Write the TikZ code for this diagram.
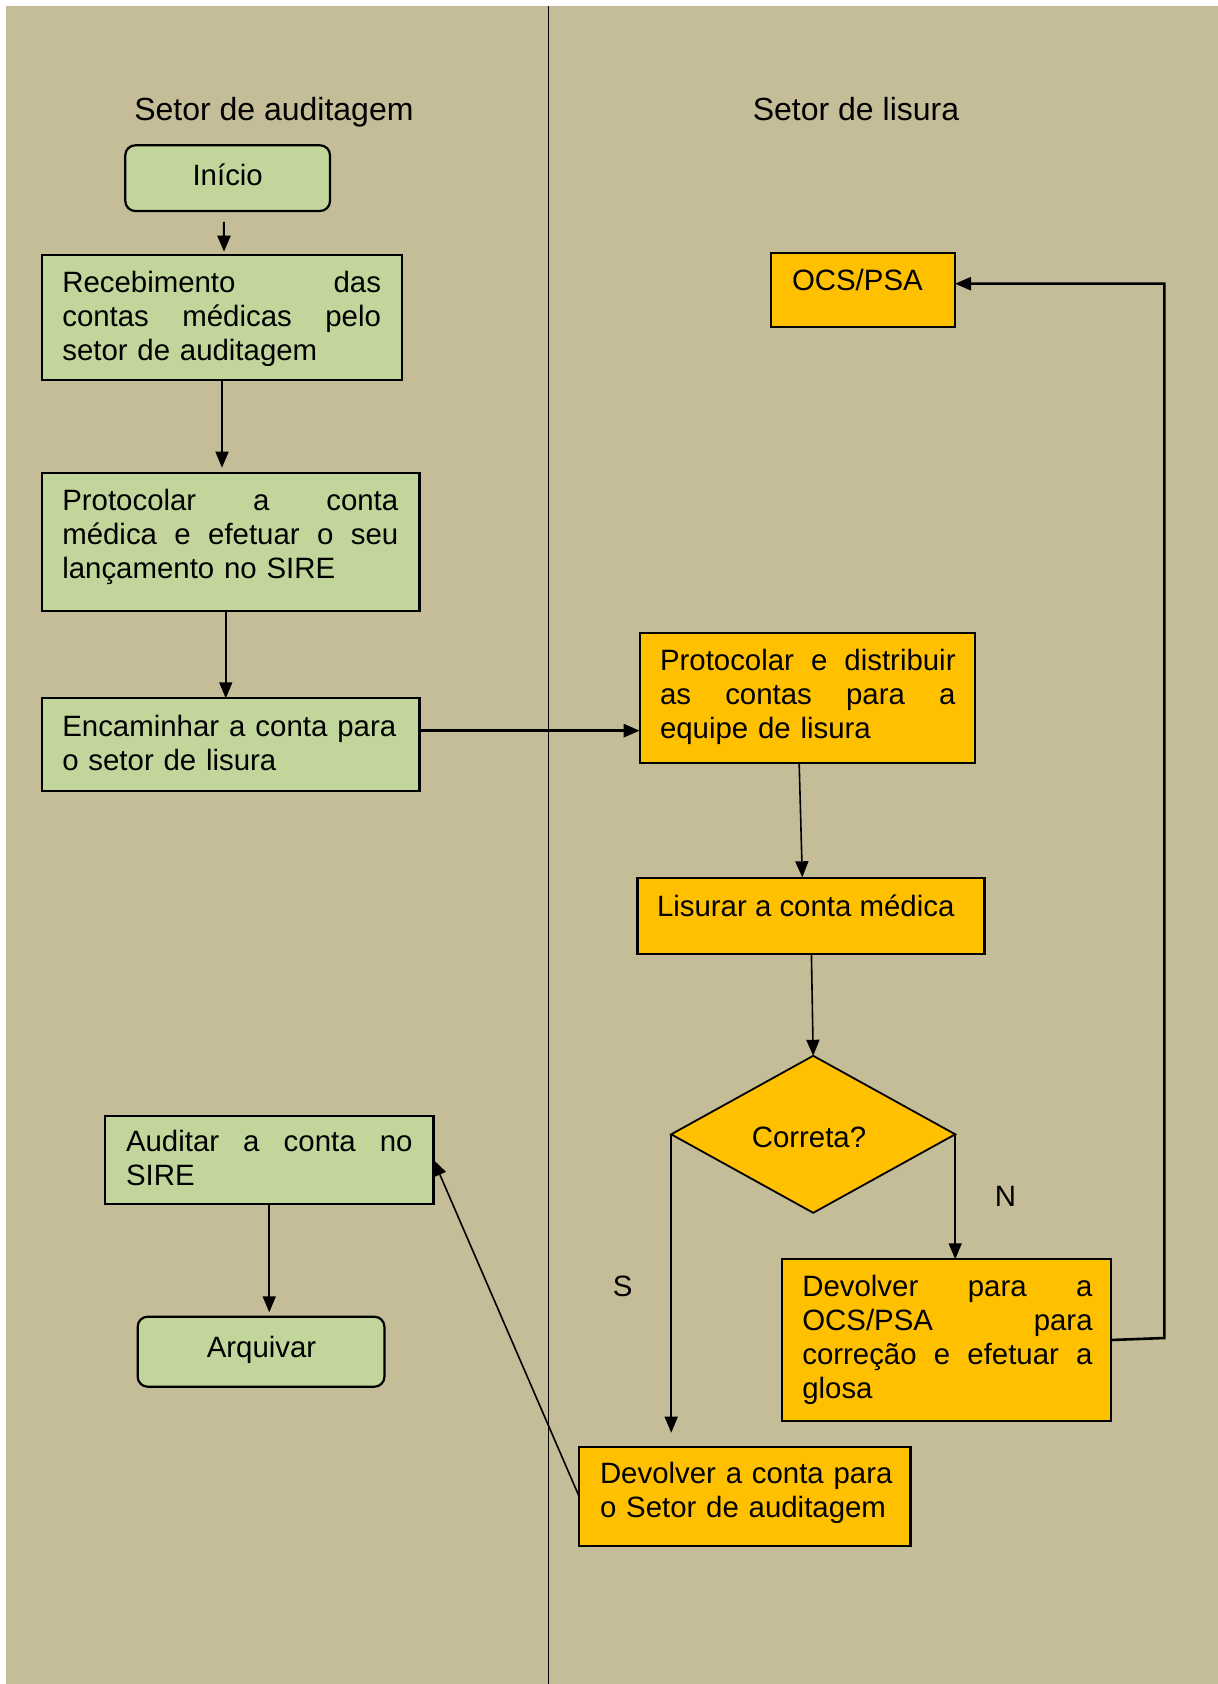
\documentclass[tikz,border=0pt]{standalone}
\usepackage{fontspec}
\setmainfont{Liberation Sans}
\usetikzlibrary{calc,arrows.meta,shapes.geometric}

\definecolor{lanebg}{HTML}{C4BD97}
\definecolor{auditgreen}{HTML}{C2D69B}
\definecolor{lisuraorange}{HTML}{FFC000}

% first-line strut: node top sits 12pt above the first baseline
\newcommand\topstrut{\rule{0pt}{12pt}}
% one fully justified line of the given width (words separated by \hfill)
\newcommand\jline[2]{\leavevmode\hbox to #1{#2}}

\begin{document}
\begin{tikzpicture}[x=0.5pt,y=-0.5pt,
  every node/.style={inner sep=0pt, outer sep=0pt},
  bodyfont/.style={font=\fontsize{14.7}{17}\selectfont},
  headfont/.style={font=\fontsize{16}{19}\selectfont},
  flowbox/.style={draw=black, line width=1.1pt, rectangle, anchor=north west},
  greenbox/.style={flowbox, fill=auditgreen},
  orangebox/.style={flowbox, fill=lisuraorange},
  roundbox/.style={greenbox, rounded corners=5pt},
  boxtext/.style={bodyfont, anchor=north west, align=left},
  link/.style={line width=0.8pt, -{Triangle[length=8pt,width=6.5pt]}},
  thicklink/.style={link, line width=1.3pt},
]
\useasboundingbox (0,0) rectangle (1218,1684);

% lanes
\fill[lanebg] (6,6) rectangle (1218,1684);
\draw[line width=0.8pt] (548.5,6) -- (548.5,1684);
\node[headfont, anchor=base] (lane-a) at (273.9,120.7) {Setor de auditagem};
\node[headfont, anchor=base] (lane-l) at (856,120.7) {Setor de lisura};

% audit lane
\node[roundbox, minimum width=102.35pt, minimum height=32.85pt] (ini) at (125.3,145.3) {};
\node[bodyfont, anchor=base] (ini-t) at (227.7,185.7) {Início};

\node[greenbox, minimum width=180pt, minimum height=62.5pt] (rec) at (42,255) {};
\node[boxtext, text width=159.35pt] (rec-t) at (62.3,268.7)
  {\topstrut\jline{159.35pt}{Recebimento\hfill das}\\
   \jline{159.35pt}{contas\hfill médicas\hfill pelo}\\
   setor de auditagem};

\node[greenbox, minimum width=188.75pt, minimum height=69.15pt] (pro) at (42,472.7) {};
\node[boxtext, text width=168pt] (pro-t) at (62.3,486)
  {\topstrut\jline{168pt}{Protocolar\hfill a\hfill conta}\\
   \jline{168pt}{médica\hfill e\hfill efetuar\hfill o\hfill seu}\\
   lançamento no SIRE};

\node[greenbox, minimum width=188.75pt, minimum height=46.35pt] (enc) at (42,698.3) {};
\node[boxtext, text width=168pt] (enc-t) at (62.3,712.7)
  {\topstrut\jline{167pt}{Encaminhar\hfill a\hfill conta\hfill para}\\
   o setor de lisura};

\node[greenbox, minimum width=164.25pt, minimum height=44.15pt] (aud) at (105,1115.7) {};
\node[boxtext, text width=143.25pt] (aud-t) at (126,1127.7)
  {\topstrut\jline{143.25pt}{Auditar\hfill a\hfill conta\hfill no}\\
   SIRE};

\node[roundbox, minimum width=123.35pt, minimum height=35pt] (arq) at (137.7,1316.7) {};
\node[bodyfont, anchor=base] (arq-t) at (261.5,1357.3) {Arquivar};

% review lane
\node[orangebox, minimum width=92pt, minimum height=37.3pt] (ocs) at (771,252.7) {};
\node[bodyfont, anchor=base west] (ocs-t) at (792,290.7) {OCS/PSA};

\node[orangebox, minimum width=167.65pt, minimum height=65.15pt] (dist) at (639.7,632.7) {};
\node[boxtext, text width=147.8pt] (dist-t) at (660,646)
  {\topstrut\jline{147.8pt}{Protocolar\hfill e\hfill distribuir}\\
   \jline{147.8pt}{as\hfill contas\hfill para\hfill a}\\
   equipe de lisura};

\node[orangebox, minimum width=173.5pt, minimum height=37.7pt] (lis) at (637.4,878.3) {};
\node[bodyfont, anchor=base west] (lis-t) at (657,916.7) {Lisurar a conta médica};

\node[diamond, draw=black, line width=0.9pt, fill=lisuraorange,
      minimum width=142pt, minimum height=78.5pt] (dia) at (813.2,1134.3) {};
\node[bodyfont, anchor=base] (dia-t) at (809,1147.7) {Correta?};
\node[bodyfont, anchor=base] (lbl-n) at (1005.4,1206) {N};
\node[bodyfont, anchor=base] (lbl-s) at (622.6,1296.7) {S};

\node[orangebox, minimum width=164.5pt, minimum height=80.7pt] (dev1) at (782,1259.3) {};
\node[boxtext, text width=145.15pt] (dev1-t) at (802.3,1272.7)
  {\topstrut\jline{145.15pt}{Devolver\hfill para\hfill a}\\
   \jline{145.15pt}{OCS/PSA\hfill para}\\
   \jline{145.15pt}{correção\hfill e\hfill efetuar\hfill a}\\
   glosa};

\node[orangebox, minimum width=165.75pt, minimum height=49.5pt] (dev2) at (579,1446.7) {};
\node[boxtext, text width=160pt] (dev2-t) at (600,1459.3)
  {\topstrut Devolver a conta para\\ o Setor de auditagem};

% connectors
\draw[link, line width=1pt] ($(ini.south)+(-3.7,11)$) -- ($(rec.north)+(2,-3.3)$);
\draw[link] (rec.south) -- ($(rec.south |- pro.north)+(0,-5)$);
\draw[link] ($(pro.south)+(-5,0)$) -- ($(pro.south |- enc.north)+(-5,0)$);
\draw[thicklink] ($(enc.east)+(0,-14)$) -- ($(enc.east -| dist.west)+(0,-14)$);
\draw[link] ($(dist.south)+(-8.2,0)$) -- ($(lis.north)+(-8.6,-1)$);
\draw[link] ($(lis.south)+(0.5,0)$) -- (dia.north);
\draw[link] (dia.east) -- (dia.east |- dev1.north);
\coordinate (ret-low) at (1164.3,1338);
\coordinate (ret-high) at (1164.3,283.7);
\draw[thicklink] (dev1.east) -- (ret-low) -- (ret-high) -- (ret-high -| ocs.east);
\draw[link] (dia.west) -- ($(dia.west |- dev2.north)+(0,-14)$);
\draw[link] (dev2.west) -- (aud.east);
\draw[link] (aud.south) -- ($(aud.south |- arq.north)+(0,-4.4)$);
\end{tikzpicture}
\end{document}
